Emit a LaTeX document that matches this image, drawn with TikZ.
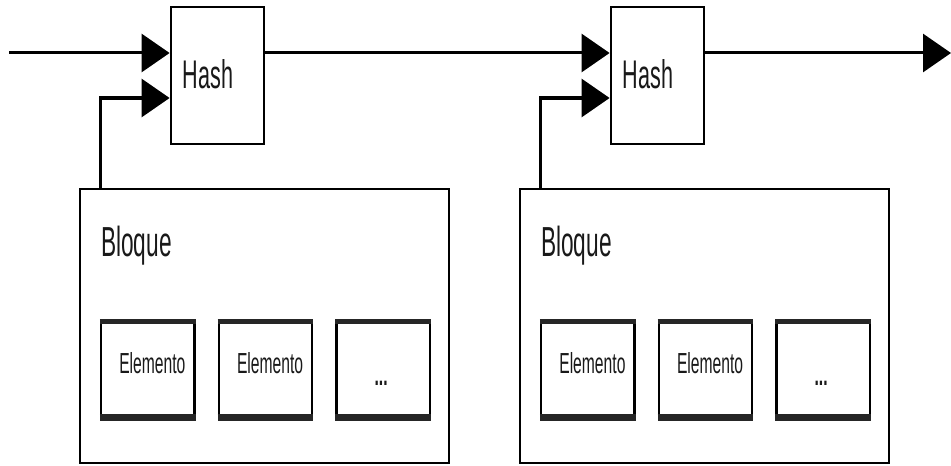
\documentclass[tikz,border=0pt]{standalone}
\usepackage{fontspec}
\setmainfont{Liberation Sans}
\usepackage{graphicx}
\usepackage{tikz}
\usetikzlibrary{positioning}
\usetikzlibrary{arrows.meta}
\newcommand{\sq}[1]{\scalebox{0.54}[1]{#1}}
\tikzset{
  arr/.style={line width=1.5pt,-{Triangle[length=14pt,width=19pt]}},
  hashbox/.style={draw,line width=1.4pt,minimum width=46.5pt,minimum height=68.5pt,inner sep=0pt},
  bloque/.style={draw,line width=1.2pt,minimum width=184.5pt,minimum height=137pt,inner sep=0pt},
  elem/.style={draw,line width=1.1pt,minimum width=46.75pt,minimum height=48pt,inner sep=0pt},
  bar/.style={line width=2.5pt,black!85},
  bigtxt/.style={inner sep=0pt,text=black!90,font=\fontsize{20pt}{24pt}\selectfont},
  smalltxt/.style={inner sep=0pt,text=black!90,font=\fontsize{14.5pt}{17pt}\selectfont}
}
\begin{document}
\begin{tikzpicture}[x=0.5pt,y=-0.5pt]
\useasboundingbox (0,0) rectangle (951,465);

\coordinate (in) at (9,53);
\coordinate (out) at (951,53);

\foreach \i/\dx in {1/0,2/440}{
  \node[hashbox] (h\i) at (217.5+\dx,75.5) {};
  \node[bigtxt,anchor=base] (ht\i) at ([xshift=-4.75pt,yshift=-6.75pt]h\i.center) {\sq{Hash}};

  \node[bloque] (b\i) at (264.5+\dx,326) {};
  \node[bigtxt,anchor=base west,font=\fontsize{21pt}{25pt}\selectfont] (bt\i)
       at ([xshift=11pt,yshift=-34.5pt]b\i.north west) {\sq{Bloque}};

  \node[elem] (e\i1) at (147.75+\dx,371) {};
  \node[elem,right=11pt of e\i1] (e\i2) {};
  \node[elem,right=11pt of e\i2] (e\i3) {};
  \foreach \j in {1,2,3}{
    \draw[bar] (e\i\j.north west) -- (e\i\j.north east);
    \draw[bar,line width=3.5pt] ([yshift=1.5pt]e\i\j.south west) -- ([yshift=1.5pt]e\i\j.south east);
  }
  \node[smalltxt,anchor=base west] (et\i1) at ([xshift=9.5pt,yshift=-1pt]e\i1.west) {\sq{Elemento}};
  \node[smalltxt,anchor=base west] (et\i2) at ([xshift=9.5pt,yshift=-1pt]e\i2.west) {\sq{Elemento}};
  \node[smalltxt,anchor=base] (et\i3) at ([xshift=-1pt,yshift=-7pt]e\i3.center) {\textbf{\sq{...}}};
}

\draw[arr] (in) -- ([yshift=11.25pt]h1.west);
\draw[arr] ([yshift=11.25pt]h1.east) -- ([yshift=11.25pt]h2.west);
\draw[arr] ([yshift=11.25pt]h2.east) -- (out);
\draw[arr] ([xshift=11pt]b1.north west) |- ([yshift=-11.25pt]h1.west);
\draw[arr] ([xshift=11pt]b2.north west) |- ([yshift=-11.25pt]h2.west);

\end{tikzpicture}
\end{document}
